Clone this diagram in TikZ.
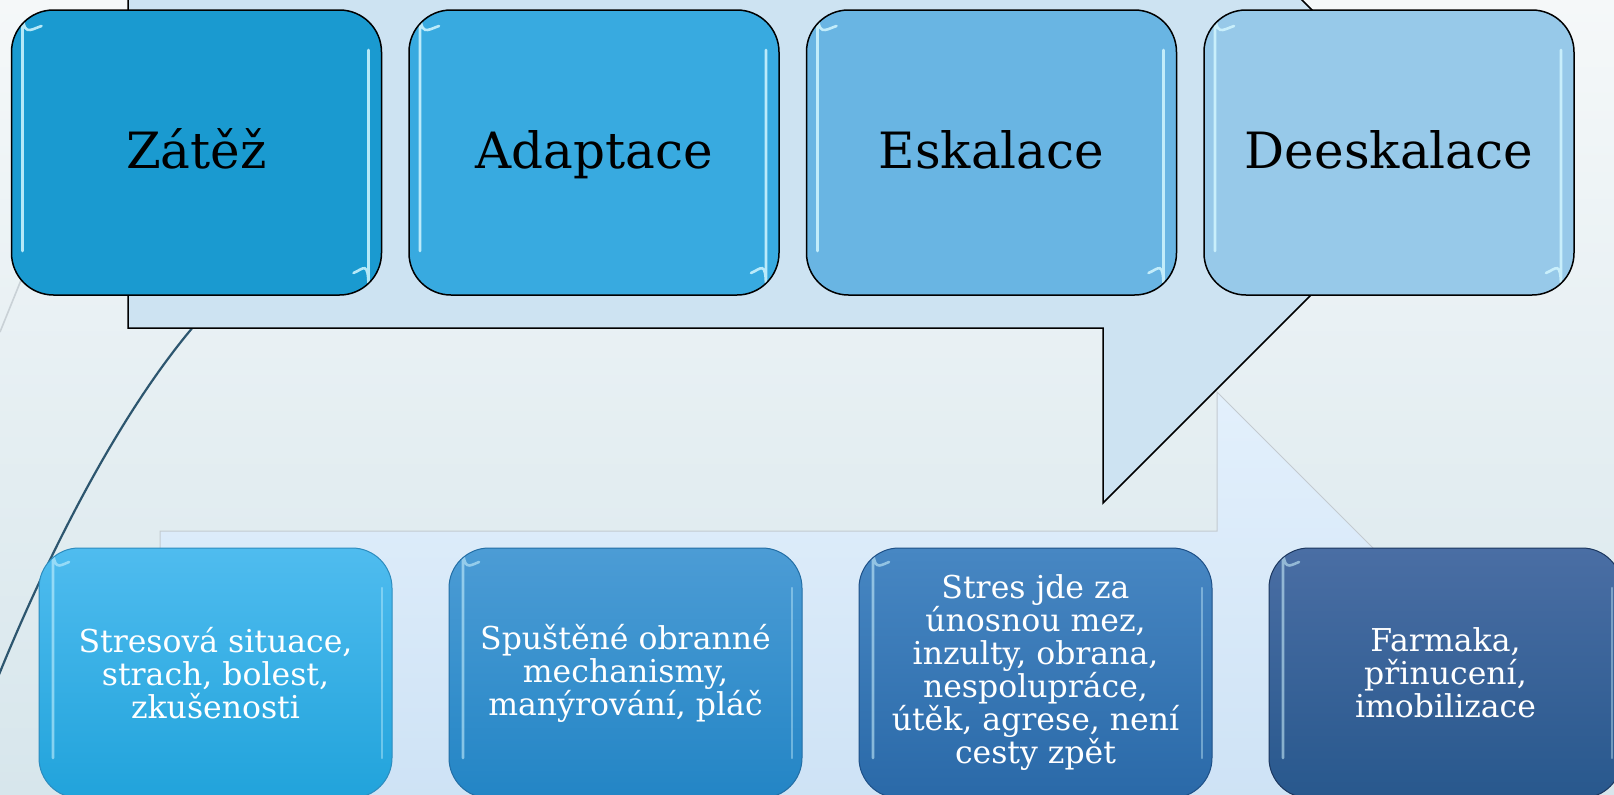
\documentclass[tikz,border=0pt]{standalone}
\usepackage{fontspec}
\setmainfont{DejaVu Serif}
\usetikzlibrary{positioning}

\definecolor{bgtop}{HTML}{F5F8F9}
\definecolor{bgbottom}{HTML}{D7E6EC}
\definecolor{arrowfill}{HTML}{CDE3F2}
\definecolor{backtop}{HTML}{E3F0FC}
\definecolor{backbottom}{HTML}{C4DCF2}
\definecolor{backline}{HTML}{C3CAD0}
\definecolor{swoosh}{HTML}{2D566F}
\definecolor{swooshgray}{HTML}{C9D1D6}
\definecolor{zatezfill}{HTML}{1A9AD0}
\definecolor{adaptfill}{HTML}{38AAE0}
\definecolor{eskalfill}{HTML}{69B5E3}
\definecolor{deeskfill}{HTML}{97C9E9}
\definecolor{shine}{HTML}{D2F6FF}

\tikzset{
  gloss/.style={path picture={
    \draw[shine, opacity=.85, line width=1.3pt, line cap=round]
      ([shift={(15pt,-8pt)}]path picture bounding box.north west)
      .. controls ([shift={(9pt,-10pt)}]path picture bounding box.north west)
      and ([shift={(5.5pt,-14pt)}]path picture bounding box.north west)
      .. ([shift={(5.5pt,-20pt)}]path picture bounding box.north west)
      -- ([shift={(5.5pt,22pt)}]path picture bounding box.south west);
    \draw[shine, opacity=.85, line width=1.3pt, line cap=round]
      ([shift={(-6.5pt,-20pt)}]path picture bounding box.north east)
      -- ([shift={(-6.5pt,24pt)}]path picture bounding box.south east)
      .. controls ([shift={(-6.5pt,18pt)}]path picture bounding box.south east)
      and ([shift={(-9pt,13pt)}]path picture bounding box.south east)
      .. ([shift={(-14pt,11pt)}]path picture bounding box.south east);
  }},
  softgloss/.style={path picture={
    \draw[shine, opacity=.55, line width=1.3pt, line cap=round]
      ([shift={(15pt,-7pt)}]path picture bounding box.north west)
      .. controls ([shift={(10pt,-9pt)}]path picture bounding box.north west)
      and ([shift={(7pt,-12pt)}]path picture bounding box.north west)
      .. ([shift={(7pt,-18pt)}]path picture bounding box.north west)
      -- ([shift={(7pt,20pt)}]path picture bounding box.south west);
    \draw[shine, opacity=.4, line width=1.1pt, line cap=round]
      ([shift={(-5pt,-20pt)}]path picture bounding box.north east)
      -- ([shift={(-5pt,20pt)}]path picture bounding box.south east);
  }},
  stage/.style={draw=black, line width=.75pt, rounded corners=21pt,
    minimum width=185pt, minimum height=142.5pt, inner sep=0pt,
    text height=22pt, text depth=6.5pt,
    font=\fontsize{25}{30}\selectfont, gloss},
  detail/.style={line width=.5pt, rounded corners=20pt,
    minimum width=176.5pt, minimum height=125pt, inner sep=0pt,
    align=center, text=white, font=\fontsize{15.75}{16.5}\selectfont, softgloss},
}

\begin{document}
\begin{tikzpicture}[x=.5pt, y=-.5pt]
	\useasboundingbox (0,0) rectangle (1614,794);
	\clip (0,0) rectangle (1614,794);
	%background
	\fill[top color=bgtop, bottom color=bgbottom] (0,0) rectangle (1614,794);
	\draw[swooshgray, line width=.8pt] (0,332) -- (30,258);
	\draw[swoosh, line width=1.1pt] (200,319) .. controls (120,410) and (45,560) .. (-4,682);
	%arrows
	\draw[backline, line width=.5pt, top color=backtop, bottom color=backbottom]
		(160,531) -- (1217,531) -- (1217,392) -- (1517,692)
		-- (1217,992) -- (1217,853) -- (160,853) -- cycle;
	\draw[black, line width=.75pt, fill=arrowfill]
		(128,-24) -- (1103,-24) -- (1103,-199) -- (1454,152)
		-- (1103,503) -- (1103,328) -- (128,328) -- cycle;
	%stages
	\node[stage, fill=zatezfill] (zatez) at (196.5,152.5) {Zátěž};
	\node[stage, fill=adaptfill, right=13pt of zatez] (adaptace) {Adaptace};
	\node[stage, fill=eskalfill, right=13pt of adaptace] (eskalace) {Eskalace};
	\node[stage, fill=deeskfill, right=13pt of eskalace] (deeskalace) {Deeskalace};
	%details
	\node[detail, draw={rgb,255:red,45;green,140;blue,190}, top color={rgb,255:red,79;green,188;blue,239},
		bottom color={rgb,255:red,33;green,163;blue,219}] (situace) at (215.5,673)
		{Stresová situace,\\strach, bolest,\\zkušenosti};
	\node[detail, draw={rgb,255:red,35;green,110;blue,165}, top color={rgb,255:red,76;green,156;blue,213},
		bottom color={rgb,255:red,35;green,133;blue,197}, right=28pt of situace] (mechanismy)
		{Spuštěné obranné\\mechanismy,\\manýrování, pláč};
	\node[detail, draw={rgb,255:red,30;green,80;blue,135}, top color={rgb,255:red,71;green,135;blue,195},
		bottom color={rgb,255:red,42;green,105;blue,168}, right=28pt of mechanismy] (agrese)
		{Stres jde za\\únosnou mez,\\inzulty, obrana,\\nespolupráce,\\útěk, agrese, není\\cesty zpět};
	\node[detail, draw={rgb,255:red,28;green,55;blue,95}, top color={rgb,255:red,74;green,110;blue,164},
		bottom color={rgb,255:red,40;green,88;blue,141}, right=28pt of agrese] (farmaka)
		{Farmaka,\\přinucení,\\imobilizace};
\end{tikzpicture}
\end{document}
